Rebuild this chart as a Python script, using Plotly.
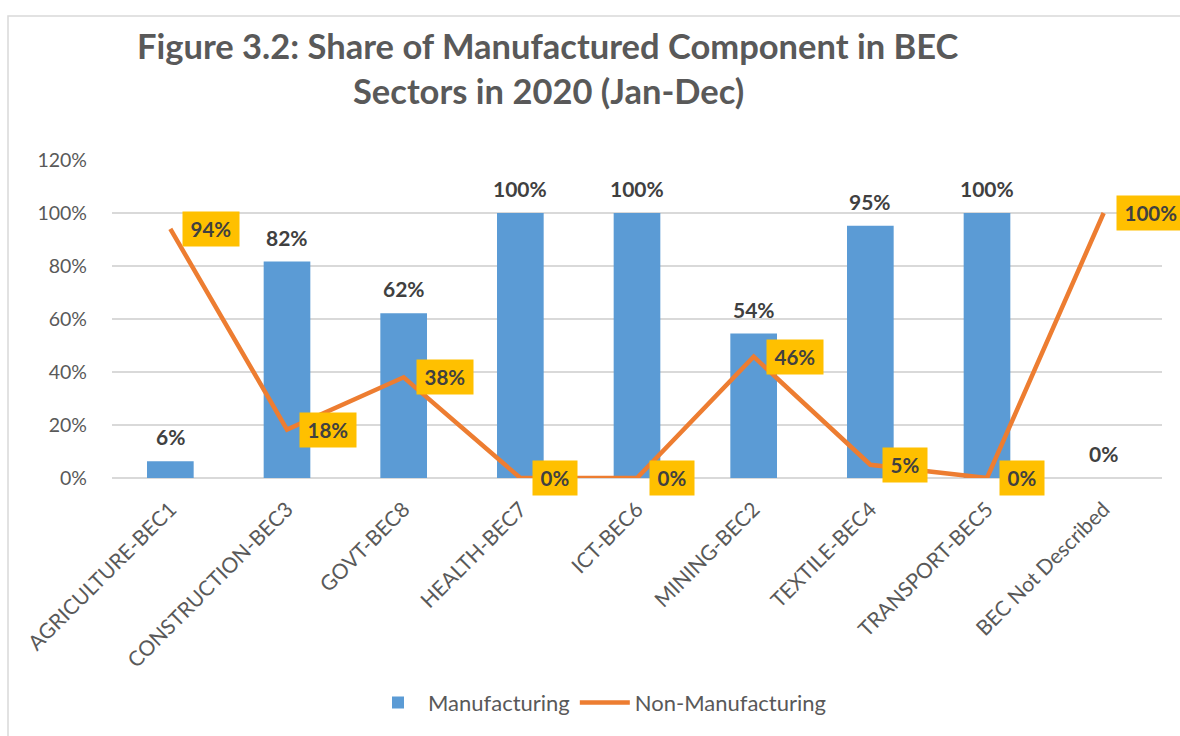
import plotly.graph_objects as go

categories = ["AGRICULTURE-BEC1", "CONSTRUCTION-BEC3", "GOVT-BEC8", "HEALTH-BEC7",
              "ICT-BEC6", "MINING-BEC2", "TEXTILE-BEC4", "TRANSPORT-BEC5", "BEC Not Described"]
manufacturing = [6.3, 81.7, 62.2, 100, 100, 54.5, 95.2, 100, 0]
non_manufacturing = [94.0, 18.3, 38.0, 0, 0, 45.8, 5.0, 0, 100]
manuf_labels = ["6%", "82%", "62%", "100%", "100%", "54%", "95%", "100%", "0%"]
nonmanuf_labels = ["94%", "18%", "38%", "0%", "0%", "46%", "5%", "0%", "100%"]
y_ticks = [0, 20, 40, 60, 80, 100, 120]
y_tick_labels = ["0%", "20%", "40%", "60%", "80%", "100%", "120%"]
title_lines = ["Figure 3.2: Share of Manufactured Component in BEC", "Sectors in 2020 (Jan-Dec)"]

FONT = "Lato"
W, H = 1180, 736
L, R, T, B = 112, 18, 160, 256

fig = go.Figure()
fig.add_trace(go.Bar(x=categories, y=manufacturing, name="Manufacturing",
                     marker=dict(color="#5B9BD5", line=dict(width=0)), width=0.4))
fig.add_trace(go.Scatter(x=categories, y=non_manufacturing, name="Non-Manufacturing",
                         mode="lines", line=dict(color="#ED7D31", width=4.5)))

pw, ph = W - L - R, H - T - B
def px_x(p):
    return (p - L) / pw
def px_y(p):
    return (H - B - p) / ph

annotations = []
for c, v, t in zip(categories, manufacturing, manuf_labels):
    annotations.append(dict(x=c, y=v, text=f"<b>{t}</b>", showarrow=False,
                            xanchor="center", yanchor="bottom", yshift=10,
                            font=dict(family=FONT, size=21, color="#404040")))
for c, v, t in zip(categories, non_manufacturing, nonmanuf_labels):
    annotations.append(dict(x=c, y=v, text=f"<b>&#8201;{t}&#8201;</b>", showarrow=False,
                            xanchor="left", yanchor="middle", xshift=12,
                            bgcolor="#FFC000", borderpad=5,
                            font=dict(family=FONT, size=20.5, color="#404040")))
for line, yc in zip(title_lines, [45, 90]):
    annotations.append(dict(xref="paper", yref="paper", x=px_x(548), y=px_y(yc),
                            text=f"<b>{line}</b>", showarrow=False,
                            xanchor="center", yanchor="middle",
                            font=dict(family=FONT, size=34.5, color="#595959")))

fig.update_layout(
    width=W, height=H,
    margin=dict(l=L, r=R, t=T, b=B),
    paper_bgcolor="white", plot_bgcolor="white",
    font=dict(family=FONT, color="#595959"),
    xaxis=dict(tickangle=-45, tickfont=dict(family=FONT, size=21, color="#595959"),
               showgrid=False, showline=False, ticks="", automargin=False,
               ticklabelstandoff=14, range=[-0.5, len(categories) - 0.5]),
    yaxis=dict(range=[0, 120], tickvals=y_ticks, ticktext=y_tick_labels,
               tickfont=dict(family=FONT, size=19.5, color="#595959"),
               showgrid=True, gridcolor="#D9D9D9", gridwidth=1.5,
               zeroline=True, zerolinecolor="#D9D9D9", zerolinewidth=1.5,
               ticklabelstandoff=24, showline=False, automargin=False),
    legend=dict(orientation="h", x=px_x(600), xanchor="center", y=px_y(706), yanchor="middle",
                font=dict(family=FONT, size=22, color="#595959"), itemwidth=50,
                traceorder="normal"),
    annotations=annotations,
    shapes=[dict(type="rect", xref="paper", yref="paper",
                 x0=px_x(8), x1=px_x(1240), y0=px_y(800), y1=px_y(15),
                 line=dict(color="#D9D9D9", width=1.5), layer="below")],
)

fig.write_html("out.html", config={"displayModeBar": False},
               post_script="document.body.style.margin='0';")
